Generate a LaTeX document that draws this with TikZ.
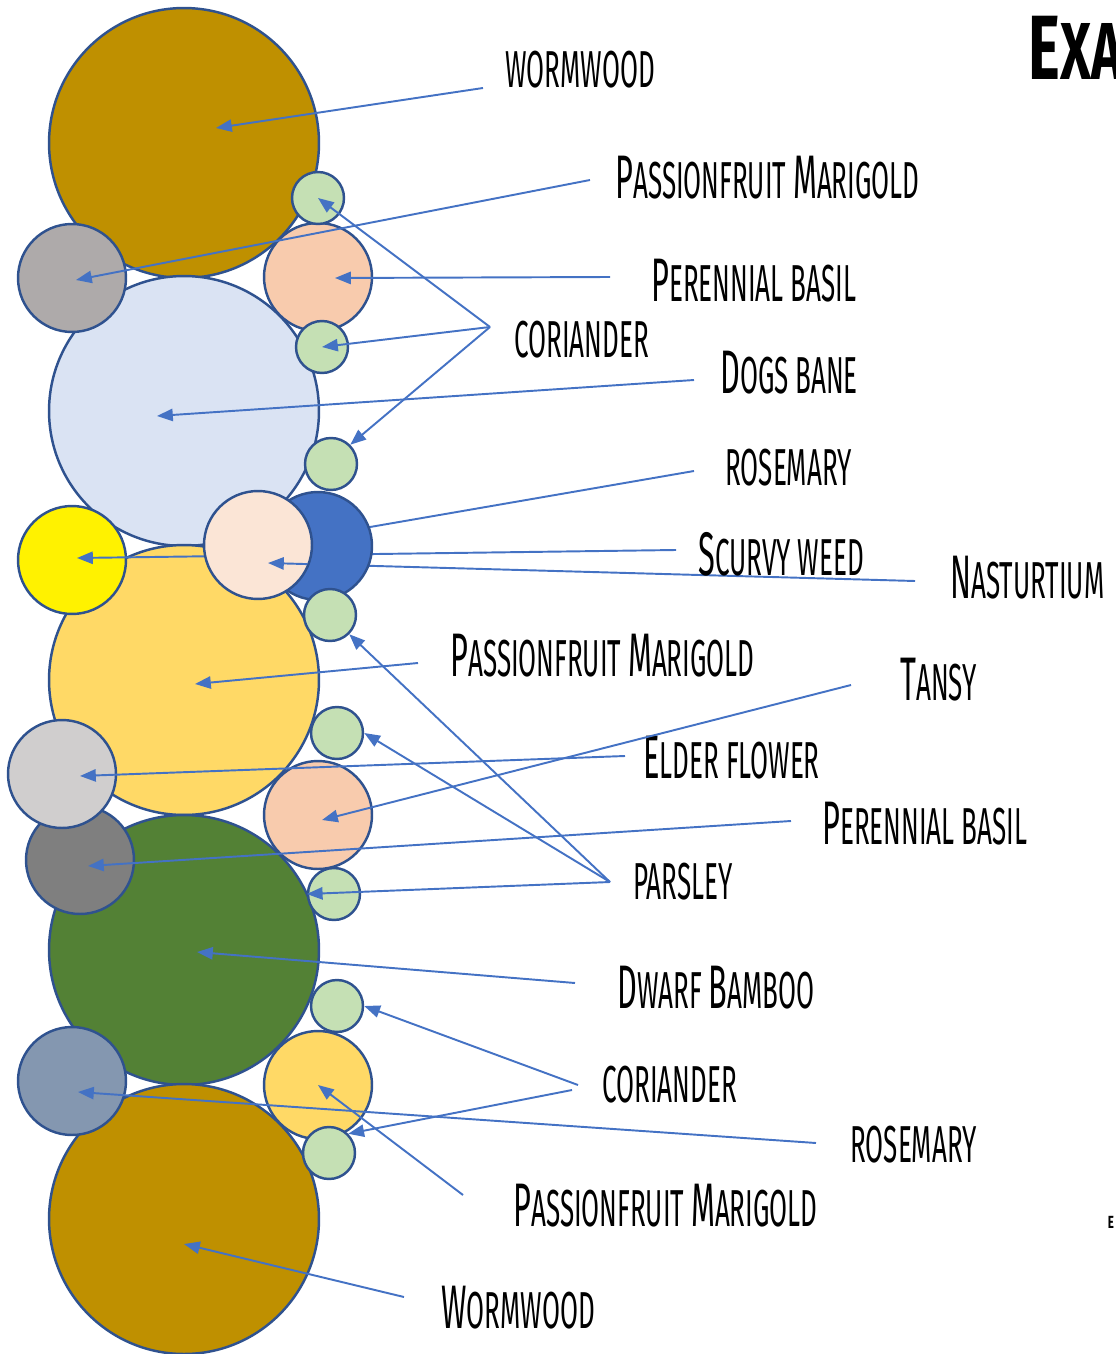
\documentclass[tikz,border=0pt]{standalone}
\usepackage{fontspec}
\setmainfont{Fira Sans}[FakeStretch=0.5]
\newfontfamily\titlefont{Fira Sans}[FakeStretch=0.66]
\usetikzlibrary{arrows.meta}
\definecolor{edge}{HTML}{2F528F}
\definecolor{arrowblue}{HTML}{4472C4}
\definecolor{wormwood}{HTML}{BF9000}
\definecolor{bluepale}{HTML}{DAE3F3}
\definecolor{gold}{HTML}{FFD966}
\definecolor{bamboo}{HTML}{538135}
\definecolor{greyA}{HTML}{AEAAAA}
\definecolor{peach}{HTML}{F8CBAD}
\definecolor{herb}{HTML}{C5E0B4}
\definecolor{peachpale}{HTML}{FBE5D6}
\definecolor{greyB}{HTML}{D0CECE}
\definecolor{greyC}{HTML}{7F7F7F}
\definecolor{slate}{HTML}{8497B0}
\newcommand\ini[1]{{\fontsize{35}{35}\selectfont #1}}
\tikzset{
  plant/.style={circle, draw=edge, line width=1.4pt, inner sep=0pt},
  big/.style={plant, minimum size=5.4cm},
  mid/.style={plant, minimum size=2.16cm},
  small/.style={plant, minimum size=1.04cm},
  arr/.style={draw=arrowblue, line width=1.1pt, -{Triangle[length=9pt,width=7pt]}},
  line/.style={draw=arrowblue, line width=1.1pt},
  lbl/.style={anchor=west, inner sep=0pt, font=\fontsize{29.6}{30}\selectfont}
}
\begin{document}
\begin{tikzpicture}[x=0.02cm, y=-0.02cm]
		%%%%% START %%%%%
		\useasboundingbox (0,0) rectangle (1115,1354);
		
		% big circles
		\node[big, fill=wormwood] (ww1) at (184,143) {};
		\node[big, fill=bluepale] (dogs) at (184,411) {};
		\node[big, fill=gold] (pfm2) at (184,680) {};
		\node[big, fill=bamboo] (bamb) at (184,950) {};
		\node[big, fill=wormwood] (ww2) at (184,1219) {};
		
		% middle circles
		\node[mid, fill=greyA] (pfm1) at (72,278) {};
		\node[mid, fill=peach] (basil1) at (318,277) {};
		\node[mid, fill=yellow] (scurvy) at (72,560) {};
		\node[mid, fill=greyC] (basil2) at (80,860) {};
		\node[mid, fill=greyB] (elder) at (62,774) {};
		\node[mid, fill=peach] (tansy) at (318,815) {};
		\node[mid, fill=slate] (rose2) at (72,1081) {};
		\node[mid, fill=gold] (pfm3) at (318,1085) {};
		
		% lines that pass under the blue circle
		\coordinate (roseT) at (694,471);
		\coordinate (scurT) at (676,550);
		\coordinate (nastT) at (915,581);
		\draw[arr] (scurT) -- ([shift={(5,-2)}]scurvy.center);
		\draw[line] (roseT) -- ([shift={(0,-10)}]318,546);
		\draw[arr] (nastT) -- ([shift={(10,18)}]258,545);
		
		\node[mid, fill=arrowblue] (rose1) at (318,546) {};
		\node[mid, fill=peachpale] (nast) at (258,545) {};
		\begin{scope}
			\clip (nast.center) circle (1.06cm);
			\draw[arr] (nastT) -- ([shift={(10,18)}]nast.center);
		\end{scope}
		
		% small circles
		\node[small, fill=herb] (cor1) at (318,198) {};
		\node[small, fill=herb] (cor2) at (322,347) {};
		\node[small, fill=herb] (cor3) at (331,464) {};
		\node[small, fill=herb] (par1) at (330,615) {};
		\node[small, fill=herb] (par2) at (337,733) {};
		\node[small, fill=herb] (par3) at (334,894) {};
		\node[small, fill=herb] (cor4) at (337,1006) {};
		\node[small, fill=herb] (cor5) at (329,1153) {};
		
		% labels
		\node[lbl] (lWw1) at (505,70) {WORMWOOD};
		\node[lbl] (lPfm1) at (615,178) {\ini{P}ASSIONFRUIT \ini{M}ARIGOLD};
		\node[lbl] (lBas1) at (651,281) {\ini{P}ERENNIAL BASIL};
		\node[lbl] (lCor1) at (514,340) {CORIANDER};
		\node[lbl] (lDogs) at (720,373) {\ini{D}OGS BANE};
		\node[lbl] (lRose1) at (725,468) {ROSEMARY};
		\node[lbl] (lScur) at (698,554) {\ini{S}CURVY WEED};
		\node[lbl] (lNast) at (950,578) {\ini{N}ASTURTIUM};
		\node[lbl] (lPfm2) at (450,656) {\ini{P}ASSIONFRUIT \ini{M}ARIGOLD};
		\node[lbl] (lTansy) at (900,680) {\ini{T}ANSY};
		\node[lbl] (lElder) at (643,758) {\ini{E}LDER FLOWER};
		\node[lbl] (lBas2) at (822,824) {\ini{P}ERENNIAL BASIL};
		\node[lbl] (lPars) at (633,882) {PARSLEY};
		\node[lbl] (lBamb) at (617,988) {\ini{D}WARF \ini{B}AMBOO};
		\node[lbl] (lCor2) at (602,1085) {CORIANDER};
		\node[lbl] (lRose2) at (850,1145) {ROSEMARY};
		\node[lbl] (lPfm3) at (513,1206) {\ini{P}ASSIONFRUIT \ini{M}ARIGOLD};
		\node[lbl] (lWw2) at (441,1308) {\ini{W}ORMWOOD};
		\node[anchor=base west, inner sep=0pt, font=\titlefont\bfseries] (title) at (1028,80)
			{{\fontsize{52}{52}\selectfont E}{\fontsize{46}{46}\selectfont XA}};
		\node[inner sep=0pt, font=\titlefont\bfseries\fontsize{10}{10}\selectfont] (mark) at (1111,1222) {E};
		
		% arrow tails
		\coordinate (ww1T) at (483,88);
		\coordinate (pfm1T) at (590,180);
		\coordinate (bas1T) at (610,277);
		\coordinate (cor1T) at (490,327);
		\coordinate (dogsT) at (694,380);
		\coordinate (pfm2T) at (418,663);
		\coordinate (parsT) at (610,882);
		\coordinate (tansT) at (851,685);
		\coordinate (eldT) at (625,756);
		\coordinate (bas2T) at (791,821);
		\coordinate (bambT) at (575,983);
		\coordinate (cor2T) at (578,1085);
		\coordinate (cor3T) at (572,1090);
		\coordinate (rose2T) at (816,1143);
		\coordinate (pfm3T) at (463,1195);
		\coordinate (ww2T) at (404,1297);
		
		% arrows
		\draw[arr] (ww1T) -- ([shift={(32,-15)}]ww1.center);
		\draw[arr] (pfm1T) -- ([shift={(4,2)}]pfm1.center);
		\draw[arr] (bas1T) -- ([shift={(17,1)}]basil1.center);
		\draw[arr] (cor1T) -- (cor1.center);
		\draw[arr] (cor1T) -- (cor2.center);
		\draw[arr] (cor1T) -- (cor3.north east);
		\draw[arr] (dogsT) -- ([shift={(-27,5)}]dogs.center);
		\draw[arr] (pfm2T) -- ([shift={(11,4)}]pfm2.center);
		\draw[arr] (parsT) -- (par1.south east);
		\draw[arr] (parsT) -- (par2.east);
		\draw[arr] (parsT) -- (par3.west);
		\draw[arr] (tansT) -- ([shift={(4,5)}]tansy.center);
		\draw[arr] (eldT) -- ([shift={(18,2)}]elder.center);
		\draw[arr] (bas2T) -- ([shift={(8,6)}]basil2.center);
		\draw[arr] (bambT) -- ([shift={(13,2)}]bamb.center);
		\draw[arr] (cor2T) -- (cor4.east);
		\draw[arr] (cor3T) -- (cor5.north east);
		\draw[arr] (rose2T) -- ([shift={(6,11)}]rose2.center);
		\draw[arr] (pfm3T) -- (pfm3.center);
		\draw[arr] (ww2T) -- ([shift={(0,25)}]ww2.center);
		%%%%% END %%%%%
\end{tikzpicture}
\end{document}
